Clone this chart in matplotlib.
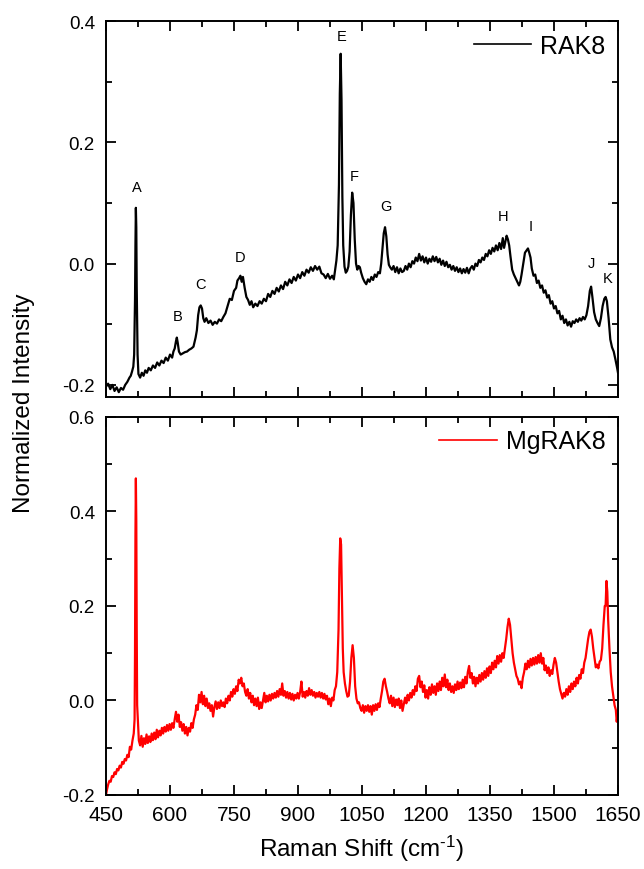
import matplotlib
matplotlib.use("Agg")
import matplotlib.pyplot as plt
from matplotlib.ticker import MultipleLocator

plt.rcParams['font.family'] = ['Liberation Sans', 'DejaVu Sans']
plt.rcParams['mathtext.fontset'] = 'custom'
plt.rcParams['mathtext.rm'] = 'Liberation Sans'
plt.rcParams['mathtext.it'] = 'Liberation Sans:italic'
plt.rcParams['mathtext.bf'] = 'Liberation Sans:bold'

# ---- RAK8 spectrum (Raman shift in cm^-1, normalized intensity) ----
rak8_shift = [
    450, 455, 460, 465, 470, 475, 480, 485, 490, 495, 500, 505, 508, 511, 514,
    516, 518, 519, 520, 521, 522, 524, 526, 530, 534, 538, 542, 546, 550, 555,
    560, 565, 570, 575, 580, 585, 590, 595, 600, 605, 608, 611, 614, 616, 618,
    621, 625, 630, 635, 640, 645, 650, 655, 660, 663, 666, 669, 672, 675, 678,
    681, 685, 690, 695, 700, 705, 710, 715, 720, 725, 730, 735, 740, 745, 750,
    755, 758, 762, 765, 768, 771, 775, 779, 783, 787, 791, 795, 800, 805, 810,
    815, 820, 825, 830, 835, 840, 845, 850, 855, 860, 865, 870, 875, 880, 885,
    890, 895, 900, 905, 910, 915, 920, 925, 930, 935, 940, 945, 950, 955, 960,
    965, 970, 975, 980, 984, 987, 990, 993, 996, 998, 1000, 1002, 1004, 1006,
    1009, 1012, 1015, 1018, 1021, 1024, 1027, 1030, 1033, 1036, 1039, 1042,
    1045, 1048, 1052, 1056, 1060, 1064, 1068, 1072, 1076, 1080, 1084, 1088,
    1092, 1095, 1098, 1101, 1104, 1107, 1110, 1113, 1116, 1120, 1124, 1128,
    1132, 1136, 1140, 1144, 1148, 1152, 1156, 1160, 1164, 1168, 1172, 1176,
    1180, 1184, 1188, 1192, 1196, 1200, 1204, 1208, 1212, 1216, 1220, 1224,
    1228, 1232, 1236, 1240, 1244, 1248, 1252, 1256, 1260, 1264, 1268, 1272,
    1276, 1280, 1284, 1288, 1292, 1296, 1300, 1304, 1308, 1312, 1316, 1320,
    1324, 1328, 1332, 1336, 1340, 1344, 1348, 1352, 1356, 1360, 1364, 1368,
    1372, 1376, 1380, 1383, 1386, 1389, 1392, 1395, 1398, 1402, 1406, 1410,
    1414, 1418, 1421, 1424, 1428, 1432, 1436, 1439, 1442, 1445, 1448, 1452,
    1456, 1460, 1464, 1468, 1472, 1476, 1480, 1484, 1488, 1492, 1496, 1500,
    1504, 1508, 1512, 1516, 1520, 1524, 1528, 1532, 1536, 1540, 1544, 1548,
    1552, 1556, 1560, 1564, 1568, 1572, 1576, 1580, 1584, 1587, 1590, 1594,
    1598, 1602, 1606, 1610, 1614, 1618, 1621, 1624, 1628, 1632, 1636, 1640,
    1644, 1648, 1650,
]
rak8_intensity = [
    -0.203, -0.198, -0.207, -0.200, -0.210, -0.204, -0.212, -0.205, -0.208,
    -0.200, -0.195, -0.188, -0.185, -0.178, -0.170, -0.150, -0.060, 0.030,
    0.092, 0.060, -0.040, -0.150, -0.182, -0.188, -0.180, -0.185, -0.176,
    -0.180, -0.172, -0.176, -0.168, -0.172, -0.163, -0.168, -0.160, -0.164,
    -0.155, -0.160, -0.150, -0.155, -0.145, -0.140, -0.128, -0.122, -0.130,
    -0.145, -0.150, -0.148, -0.146, -0.145, -0.142, -0.140, -0.137, -0.122,
    -0.110, -0.085, -0.072, -0.069, -0.074, -0.090, -0.096, -0.090, -0.098,
    -0.094, -0.101, -0.096, -0.099, -0.092, -0.095, -0.088, -0.082, -0.070,
    -0.058, -0.060, -0.045, -0.040, -0.028, -0.024, -0.020, -0.030, -0.022,
    -0.040, -0.055, -0.060, -0.068, -0.062, -0.072, -0.066, -0.070, -0.062,
    -0.066, -0.058, -0.062, -0.050, -0.055, -0.045, -0.050, -0.040, -0.046,
    -0.036, -0.042, -0.030, -0.036, -0.026, -0.032, -0.022, -0.028, -0.018,
    -0.024, -0.014, -0.020, -0.010, -0.015, -0.006, -0.012, -0.004, -0.010,
    -0.005, -0.016, -0.018, -0.024, -0.017, -0.025, -0.020, -0.026, -0.010,
    0.005, 0.030, 0.130, 0.280, 0.346, 0.270, 0.110, 0.030, -0.005, -0.015,
    -0.012, -0.005, 0.020, 0.080, 0.117, 0.100, 0.040, 0.000, -0.010, -0.004,
    -0.006, -0.015, -0.024, -0.030, -0.034, -0.026, -0.030, -0.022, -0.027,
    -0.018, -0.022, -0.014, -0.016, 0.000, 0.025, 0.050, 0.060, 0.045, 0.015,
    -0.002, -0.006, -0.010, -0.004, -0.014, -0.006, -0.016, -0.008, -0.014,
    -0.012, -0.004, -0.010, 0.000, -0.006, 0.004, 0.000, 0.010, 0.004, 0.016,
    0.005, 0.012, 0.002, 0.010, 0.000, 0.008, 0.003, 0.012, 0.004, 0.011,
    0.002, 0.008, -0.002, 0.005, -0.004, 0.003, -0.006, -0.002, -0.010,
    -0.004, -0.012, -0.006, -0.014, -0.008, -0.016, -0.009, -0.015, -0.007,
    -0.016, -0.008, -0.004, -0.010, 0.000, -0.004, 0.006, 0.002, 0.010, 0.006,
    0.016, 0.012, 0.022, 0.016, 0.026, 0.020, 0.030, 0.022, 0.034, 0.024,
    0.042, 0.026, 0.036, 0.046, 0.040, 0.030, 0.012, -0.010, -0.018, -0.024,
    -0.030, -0.036, -0.030, -0.018, 0.000, 0.018, 0.022, 0.025, 0.018, 0.010,
    -0.008, -0.020, -0.018, -0.032, -0.028, -0.040, -0.036, -0.048, -0.044,
    -0.056, -0.052, -0.066, -0.062, -0.074, -0.070, -0.082, -0.078, -0.092,
    -0.086, -0.098, -0.092, -0.102, -0.096, -0.104, -0.095, -0.098, -0.092,
    -0.096, -0.090, -0.094, -0.088, -0.092, -0.085, -0.070, -0.045, -0.038,
    -0.055, -0.080, -0.092, -0.098, -0.103, -0.090, -0.070, -0.058, -0.055,
    -0.062, -0.090, -0.125, -0.138, -0.145, -0.158, -0.172, -0.180,
]

# ---- MgRAK8 spectrum ----
mgrak8_shift = [
    450, 452, 455, 458, 461, 464, 467, 470, 473, 476, 479, 482, 485, 488, 491,
    494, 497, 500, 503, 506, 509, 512, 515, 517, 518, 519, 520, 521, 522, 523,
    525, 527, 530, 533, 536, 539, 542, 545, 548, 551, 554, 557, 560, 563, 566,
    569, 572, 575, 578, 581, 584, 587, 590, 593, 596, 599, 602, 605, 608, 611,
    614, 617, 620, 623, 626, 629, 632, 635, 638, 641, 644, 647, 650, 653, 656,
    659, 662, 665, 668, 671, 674, 677, 680, 683, 686, 689, 692, 695, 698, 701,
    704, 707, 710, 713, 716, 719, 722, 725, 728, 731, 734, 737, 740, 743, 746,
    749, 752, 755, 758, 761, 764, 767, 770, 773, 776, 779, 782, 785, 788, 791,
    794, 797, 800, 803, 806, 809, 812, 815, 818, 821, 824, 827, 830, 833, 836,
    839, 842, 845, 848, 851, 854, 857, 860, 863, 866, 869, 872, 875, 878, 881,
    884, 887, 890, 893, 896, 899, 902, 905, 908, 911, 914, 917, 920, 923, 926,
    929, 932, 935, 938, 941, 944, 947, 950, 953, 956, 959, 962, 965, 968, 971,
    974, 977, 980, 983, 986, 989, 992, 995, 997, 999, 1001, 1003, 1005, 1007,
    1010, 1013, 1016, 1019, 1022, 1025, 1028, 1031, 1034, 1037, 1040, 1043,
    1046, 1049, 1052, 1055, 1058, 1061, 1064, 1067, 1070, 1073, 1076, 1079,
    1082, 1085, 1088, 1091, 1094, 1097, 1100, 1103, 1106, 1109, 1112, 1115,
    1118, 1121, 1124, 1127, 1130, 1133, 1136, 1139, 1142, 1145, 1148, 1151,
    1154, 1157, 1160, 1163, 1166, 1169, 1172, 1175, 1178, 1181, 1184, 1187,
    1190, 1193, 1196, 1199, 1202, 1205, 1208, 1211, 1214, 1217, 1220, 1223,
    1226, 1229, 1232, 1235, 1238, 1241, 1244, 1247, 1250, 1253, 1256, 1259,
    1262, 1265, 1268, 1271, 1274, 1277, 1280, 1283, 1286, 1289, 1292, 1295,
    1298, 1301, 1304, 1307, 1310, 1313, 1316, 1319, 1322, 1325, 1328, 1331,
    1334, 1337, 1340, 1343, 1346, 1349, 1352, 1355, 1358, 1361, 1364, 1367,
    1370, 1373, 1376, 1379, 1382, 1385, 1388, 1391, 1394, 1397, 1400, 1403,
    1406, 1409, 1412, 1415, 1418, 1421, 1424, 1427, 1430, 1433, 1436, 1439,
    1442, 1445, 1448, 1451, 1454, 1457, 1460, 1463, 1466, 1469, 1472, 1475,
    1478, 1481, 1484, 1487, 1490, 1493, 1496, 1499, 1502, 1505, 1508, 1511,
    1514, 1517, 1520, 1523, 1526, 1529, 1532, 1535, 1538, 1541, 1544, 1547,
    1550, 1553, 1556, 1559, 1562, 1565, 1568, 1571, 1574, 1577, 1580, 1583,
    1586, 1589, 1592, 1595, 1598, 1601, 1604, 1607, 1610, 1613, 1616, 1619,
    1621, 1623, 1625, 1627, 1630, 1633, 1636, 1639, 1642, 1645, 1647, 1649,
    1650,
]
mgrak8_intensity = [
    -0.200, -0.190, -0.178, -0.170, -0.172, -0.160, -0.162, -0.152, -0.156,
    -0.145, -0.148, -0.138, -0.142, -0.130, -0.134, -0.124, -0.127, -0.115,
    -0.120, -0.098, -0.104, -0.085, -0.070, -0.040, 0.100, 0.350, 0.470,
    0.380, 0.150, -0.010, -0.050, -0.085, -0.095, -0.075, -0.098, -0.080,
    -0.092, -0.072, -0.090, -0.076, -0.088, -0.070, -0.084, -0.068, -0.082,
    -0.062, -0.078, -0.064, -0.074, -0.058, -0.070, -0.056, -0.066, -0.052,
    -0.064, -0.050, -0.062, -0.048, -0.058, -0.040, -0.024, -0.045, -0.030,
    -0.056, -0.046, -0.064, -0.050, -0.070, -0.056, -0.074, -0.058, -0.066,
    -0.048, -0.058, -0.040, -0.030, -0.010, -0.020, 0.012, -0.004, 0.018,
    -0.008, 0.010, -0.012, 0.004, -0.016, -0.006, -0.022, -0.010, -0.034,
    -0.014, -0.002, -0.018, -0.004, -0.016, 0.000, -0.012, -0.004, -0.014,
    0.004, -0.006, 0.010, 0.000, 0.018, 0.008, 0.024, 0.014, 0.030, 0.020,
    0.044, 0.036, 0.048, 0.030, 0.036, 0.018, 0.010, 0.024, 0.004, 0.016,
    -0.004, 0.010, -0.010, 0.004, -0.012, 0.006, -0.018, -0.004, -0.016,
    0.000, 0.016, -0.004, 0.010, -0.002, 0.012, 0.000, 0.014, 0.004, 0.016,
    0.006, 0.020, 0.008, 0.024, 0.012, 0.036, 0.010, 0.020, 0.006, 0.018,
    0.004, 0.016, 0.002, 0.014, 0.000, 0.012, 0.004, 0.016, 0.004, 0.018,
    0.040, 0.008, 0.018, 0.006, 0.020, 0.010, 0.026, 0.012, 0.022, 0.010,
    0.018, 0.006, 0.016, 0.008, 0.018, 0.006, 0.016, 0.004, 0.014, 0.002,
    0.010, -0.008, 0.004, -0.012, 0.006, 0.000, 0.022, 0.030, 0.060, 0.150,
    0.280, 0.343, 0.330, 0.220, 0.110, 0.060, 0.036, 0.020, 0.008, 0.010,
    0.040, 0.090, 0.117, 0.090, 0.030, 0.004, -0.006, -0.004, -0.016, -0.022,
    -0.010, -0.026, -0.012, -0.022, -0.010, -0.024, -0.012, -0.030, -0.010,
    -0.022, -0.008, -0.020, -0.006, -0.014, 0.004, 0.020, 0.040, 0.046, 0.030,
    0.018, 0.004, -0.006, 0.010, -0.012, 0.006, -0.014, 0.002, -0.010, 0.004,
    -0.016, 0.000, -0.022, -0.008, 0.006, -0.006, 0.012, 0.000, 0.016, 0.006,
    0.022, 0.012, 0.030, 0.020, 0.046, 0.052, 0.028, 0.040, 0.018, 0.032,
    0.006, 0.022, 0.004, 0.028, 0.012, 0.034, 0.016, 0.030, 0.012, 0.036,
    0.020, 0.040, 0.022, 0.048, 0.030, 0.055, 0.028, 0.044, 0.022, 0.036,
    0.018, 0.030, 0.016, 0.034, 0.022, 0.040, 0.024, 0.038, 0.026, 0.044,
    0.028, 0.050, 0.036, 0.060, 0.073, 0.048, 0.058, 0.036, 0.050, 0.030,
    0.048, 0.036, 0.054, 0.040, 0.058, 0.044, 0.062, 0.048, 0.068, 0.052,
    0.072, 0.058, 0.080, 0.066, 0.084, 0.070, 0.094, 0.078, 0.096, 0.082,
    0.100, 0.090, 0.110, 0.130, 0.155, 0.173, 0.160, 0.130, 0.100, 0.080,
    0.066, 0.052, 0.046, 0.034, 0.040, 0.026, 0.048, 0.060, 0.078, 0.066,
    0.084, 0.070, 0.088, 0.074, 0.090, 0.076, 0.092, 0.078, 0.096, 0.080,
    0.100, 0.078, 0.090, 0.064, 0.074, 0.058, 0.070, 0.052, 0.064, 0.056,
    0.076, 0.090, 0.080, 0.060, 0.040, 0.024, 0.014, 0.004, 0.016, 0.008,
    0.024, 0.012, 0.030, 0.018, 0.036, 0.024, 0.040, 0.030, 0.048, 0.036,
    0.054, 0.046, 0.066, 0.058, 0.080, 0.090, 0.110, 0.130, 0.145, 0.150,
    0.135, 0.110, 0.090, 0.070, 0.076, 0.068, 0.082, 0.086, 0.110, 0.160,
    0.200, 0.200, 0.253, 0.230, 0.170, 0.110, 0.060, 0.030, 0.010, -0.010,
    -0.020, -0.045, -0.030, -0.040,
]

# Band labels on the RAK8 spectrum
band_labels = ['A', 'B', 'C', 'D', 'E', 'F', 'G', 'H', 'I', 'J', 'K']
band_shift = [523, 617, 672, 765, 1002, 1032, 1106, 1381, 1446, 1588, 1625]
band_level = [0.115, -0.098, -0.046, 0.000, 0.364, 0.133, 0.083, 0.067,
              0.050, -0.010, -0.035]

x_ticks = [450, 600, 750, 900, 1050, 1200, 1350, 1500, 1650]

fig = plt.figure(figsize=(6.44, 8.70), dpi=100)
ax_top = fig.add_axes([0.1646, 0.5425, 0.795, 0.4322])
ax_bot = fig.add_axes([0.1646, 0.0851, 0.795, 0.4345])

ax_top.plot(rak8_shift, rak8_intensity, color='black', lw=1.6, label='RAK8')
ax_bot.plot(mgrak8_shift, mgrak8_intensity, color='red', lw=1.6,
            label='MgRAK8')

for lab, xs, yl in zip(band_labels, band_shift, band_level):
    ax_top.text(xs, yl, lab, ha='center', va='bottom', fontsize=10.5)

ax_top.set_ylim(-0.22, 0.4)
ax_bot.set_ylim(-0.2, 0.6)
for ax in (ax_top, ax_bot):
    ax.set_xlim(450, 1650)
    ax.set_xticks(x_ticks)
    ax.xaxis.set_minor_locator(MultipleLocator(75))
    ax.yaxis.set_major_locator(MultipleLocator(0.2))
    ax.yaxis.set_minor_locator(MultipleLocator(0.1))
    ax.yaxis.set_major_formatter(plt.FormatStrFormatter('%.1f'))
    for sp in ax.spines.values():
        sp.set_linewidth(1.4)
    ax.tick_params(which='both', direction='in', top=True, right=True,
                   width=1.3)
    ax.tick_params(which='major', length=7)
    ax.tick_params(which='minor', length=4)
    ax.tick_params(axis='y', labelsize=13.5, pad=8)
    ax.tick_params(axis='x', labelsize=15, pad=7)
    leg = ax.legend(loc='upper right', frameon=False, fontsize=18,
                    handlelength=2.3, handletextpad=0.35, borderaxespad=0.3,
                    borderpad=0.2)
    for ln in leg.get_lines():
        ln.set_linewidth(1.2)

ax_top.tick_params(axis='x', labelbottom=False)

fig.text(0.037, 0.537, 'Normalized Intensity', rotation=90, ha='center',
         va='center', fontsize=17.5)
fig.text(0.5621, 0.0247, r'Raman Shift (cm$^{\text{-1}}$)', ha='center',
         va='center', fontsize=17.5)

fig.savefig('out.png', dpi=100)
